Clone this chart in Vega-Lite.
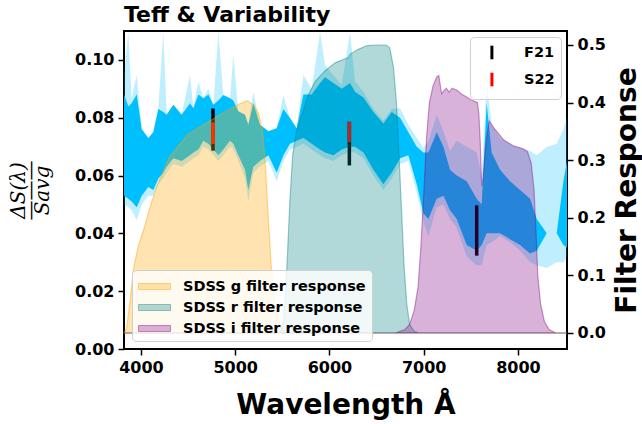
{
  "$schema": "https://vega.github.io/schema/vega-lite/v6.json",
  "width": 443,
  "height": 318,
  "autosize": {"type": "none"},
  "padding": {"left": 124, "top": 31, "right": 75, "bottom": 75},
  "background": "white",
  "config": {
    "font": "DejaVu Sans",
    "view": {"stroke": "black", "strokeWidth": 2},
    "axis": {
      "labelFont": "DejaVu Sans", "labelFontWeight": "bold", "labelFontSize": 16, "labelColor": "black",
      "tickColor": "black", "tickSize": 6, "tickWidth": 1.5, "domain": false, "grid": false,
      "titleFont": "DejaVu Sans", "titleFontWeight": "bold", "titleColor": "black", "labelPadding": 4
    },
    "legend": {
      "labelFont": "DejaVu Sans", "labelFontWeight": "bold", "labelFontSize": 14.5, "labelColor": "black", "labelLimit": 0,
      "fillColor": "rgba(255,255,255,0.8)", "strokeColor": "#d0d0d0", "cornerRadius": 4, "padding": 6
    }
  },
  "title": {"text": "Teff & Variability", "anchor": "start", "frame": "group", "fontSize": 22, "fontWeight": "bold", "font": "DejaVu Sans", "offset": 4, "color": "black"},
  "datasets": {
    "spectrum": [
      {"wl": 3820, "lo": 0.050, "hi": 0.0948, "clo": 0.053, "chi": 0.088},
      {"wl": 3866, "lo": 0.049, "hi": 0.1096, "clo": 0.052, "chi": 0.084},
      {"wl": 3901, "lo": 0.048, "hi": 0.0867, "clo": 0.051, "chi": 0.085},
      {"wl": 3955, "lo": 0.0445, "hi": 0.0948, "clo": 0.049, "chi": 0.088},
      {"wl": 4008, "lo": 0.050, "hi": 0.0764, "clo": 0.053, "chi": 0.076},
      {"wl": 4078, "lo": 0.053, "hi": 0.0730, "clo": 0.056, "chi": 0.073},
      {"wl": 4131, "lo": 0.053, "hi": 0.0753, "clo": 0.055, "chi": 0.075},
      {"wl": 4184, "lo": 0.057, "hi": 0.0833, "clo": 0.059, "chi": 0.083},
      {"wl": 4237, "lo": 0.059, "hi": 0.1096, "clo": 0.061, "chi": 0.082},
      {"wl": 4273, "lo": 0.061, "hi": 0.081, "clo": 0.063, "chi": 0.081},
      {"wl": 4344, "lo": 0.064, "hi": 0.0845, "clo": 0.066, "chi": 0.0845},
      {"wl": 4432, "lo": 0.063, "hi": 0.081, "clo": 0.065, "chi": 0.081},
      {"wl": 4520, "lo": 0.065, "hi": 0.0948, "clo": 0.067, "chi": 0.085},
      {"wl": 4556, "lo": 0.066, "hi": 0.0833, "clo": 0.068, "chi": 0.0833},
      {"wl": 4609, "lo": 0.067, "hi": 0.0925, "clo": 0.069, "chi": 0.088},
      {"wl": 4662, "lo": 0.070, "hi": 0.0867, "clo": 0.072, "chi": 0.0867},
      {"wl": 4715, "lo": 0.069, "hi": 0.090, "clo": 0.071, "chi": 0.088},
      {"wl": 4768, "lo": 0.067, "hi": 0.0845, "clo": 0.069, "chi": 0.0845},
      {"wl": 4821, "lo": 0.065, "hi": 0.1096, "clo": 0.067, "chi": 0.086},
      {"wl": 4874, "lo": 0.067, "hi": 0.0879, "clo": 0.069, "chi": 0.0879},
      {"wl": 4945, "lo": 0.070, "hi": 0.0867, "clo": 0.072, "chi": 0.0867},
      {"wl": 4980, "lo": 0.069, "hi": 0.1016, "clo": 0.071, "chi": 0.086},
      {"wl": 5033, "lo": 0.065, "hi": 0.0822, "clo": 0.067, "chi": 0.0822},
      {"wl": 5104, "lo": 0.059, "hi": 0.081, "clo": 0.062, "chi": 0.081},
      {"wl": 5139, "lo": 0.051, "hi": 0.0776, "clo": 0.055, "chi": 0.0776},
      {"wl": 5192, "lo": 0.061, "hi": 0.089, "clo": 0.063, "chi": 0.085},
      {"wl": 5263, "lo": 0.063, "hi": 0.0776, "clo": 0.065, "chi": 0.0776},
      {"wl": 5352, "lo": 0.065, "hi": 0.0753, "clo": 0.067, "chi": 0.0753},
      {"wl": 5440, "lo": 0.058, "hi": 0.0764, "clo": 0.061, "chi": 0.0764},
      {"wl": 5511, "lo": 0.065, "hi": 0.0879, "clo": 0.067, "chi": 0.083},
      {"wl": 5581, "lo": 0.069, "hi": 0.0799, "clo": 0.071, "chi": 0.0799},
      {"wl": 5652, "lo": 0.070, "hi": 0.0764, "clo": 0.072, "chi": 0.0764},
      {"wl": 5723, "lo": 0.071, "hi": 0.0948, "clo": 0.073, "chi": 0.088},
      {"wl": 5811, "lo": 0.069, "hi": 0.090, "clo": 0.071, "chi": 0.088},
      {"wl": 5900, "lo": 0.067, "hi": 0.1096, "clo": 0.069, "chi": 0.092},
      {"wl": 5953, "lo": 0.066, "hi": 0.0982, "clo": 0.068, "chi": 0.094},
      {"wl": 6041, "lo": 0.065, "hi": 0.0948, "clo": 0.067, "chi": 0.092},
      {"wl": 6130, "lo": 0.067, "hi": 0.0913, "clo": 0.069, "chi": 0.090},
      {"wl": 6218, "lo": 0.068, "hi": 0.1096, "clo": 0.070, "chi": 0.092},
      {"wl": 6271, "lo": 0.068, "hi": 0.0925, "clo": 0.070, "chi": 0.089},
      {"wl": 6360, "lo": 0.066, "hi": 0.089, "clo": 0.068, "chi": 0.087},
      {"wl": 6466, "lo": 0.060, "hi": 0.083, "clo": 0.062, "chi": 0.082},
      {"wl": 6572, "lo": 0.055, "hi": 0.079, "clo": 0.057, "chi": 0.078},
      {"wl": 6660, "lo": 0.059, "hi": 0.083, "clo": 0.061, "chi": 0.082},
      {"wl": 6749, "lo": 0.064, "hi": 0.0833, "clo": 0.066, "chi": 0.080},
      {"wl": 6837, "lo": 0.065, "hi": 0.0776, "clo": 0.067, "chi": 0.075},
      {"wl": 6926, "lo": 0.054, "hi": 0.073, "clo": 0.057, "chi": 0.070},
      {"wl": 6996, "lo": 0.044, "hi": 0.0696, "clo": 0.047, "chi": 0.068},
      {"wl": 7049, "lo": 0.039, "hi": 0.0719, "clo": 0.045, "chi": 0.068},
      {"wl": 7138, "lo": 0.049, "hi": 0.081, "clo": 0.052, "chi": 0.075},
      {"wl": 7209, "lo": 0.050, "hi": 0.0753, "clo": 0.053, "chi": 0.070},
      {"wl": 7279, "lo": 0.045, "hi": 0.0685, "clo": 0.048, "chi": 0.062},
      {"wl": 7350, "lo": 0.042, "hi": 0.072, "clo": 0.045, "chi": 0.060},
      {"wl": 7456, "lo": 0.032, "hi": 0.070, "clo": 0.036, "chi": 0.058},
      {"wl": 7562, "lo": 0.029, "hi": 0.068, "clo": 0.034, "chi": 0.052},
      {"wl": 7615, "lo": 0.029, "hi": 0.060, "clo": 0.036, "chi": 0.050},
      {"wl": 7668, "lo": 0.036, "hi": 0.0925, "clo": 0.040, "chi": 0.085},
      {"wl": 7721, "lo": 0.037, "hi": 0.0776, "clo": 0.040, "chi": 0.068},
      {"wl": 7810, "lo": 0.039, "hi": 0.073, "clo": 0.040, "chi": 0.062},
      {"wl": 7916, "lo": 0.037, "hi": 0.0707, "clo": 0.038, "chi": 0.058},
      {"wl": 8022, "lo": 0.034, "hi": 0.0696, "clo": 0.036, "chi": 0.055},
      {"wl": 8128, "lo": 0.030, "hi": 0.0685, "clo": 0.033, "chi": 0.052},
      {"wl": 8199, "lo": 0.029, "hi": 0.067, "clo": 0.034, "chi": 0.045},
      {"wl": 8305, "lo": 0.028, "hi": 0.070, "clo": 0.040, "chi": 0.040},
      {"wl": 8411, "lo": 0.030, "hi": 0.071, "clo": 0.040, "chi": 0.040},
      {"wl": 8482, "lo": 0.030, "hi": 0.076, "clo": 0.036, "chi": 0.058},
      {"wl": 8520, "lo": 0.032, "hi": 0.080, "clo": 0.035, "chi": 0.065}
    ],
    "errors": [
      {"src": "F21", "wl": 4764, "lo": 0.0686, "hi": 0.0832},
      {"src": "S22", "wl": 4764, "lo": 0.0709, "hi": 0.0784},
      {"src": "F21", "wl": 6211, "lo": 0.0635, "hi": 0.0786},
      {"src": "S22", "wl": 6211, "lo": 0.0715, "hi": 0.0786},
      {"src": "F21", "wl": 7562, "lo": 0.0323, "hi": 0.0497}
    ],
    "filters": [
      {"f": "SDSS g filter response", "wl": 3820, "r": 0},
      {"f": "SDSS g filter response", "wl": 3850, "r": 0.01},
      {"f": "SDSS g filter response", "wl": 3880, "r": 0.05},
      {"f": "SDSS g filter response", "wl": 3920, "r": 0.11},
      {"f": "SDSS g filter response", "wl": 3970, "r": 0.15},
      {"f": "SDSS g filter response", "wl": 4030, "r": 0.18},
      {"f": "SDSS g filter response", "wl": 4100, "r": 0.22},
      {"f": "SDSS g filter response", "wl": 4170, "r": 0.255},
      {"f": "SDSS g filter response", "wl": 4300, "r": 0.305},
      {"f": "SDSS g filter response", "wl": 4500, "r": 0.345},
      {"f": "SDSS g filter response", "wl": 4700, "r": 0.365},
      {"f": "SDSS g filter response", "wl": 4900, "r": 0.385},
      {"f": "SDSS g filter response", "wl": 5050, "r": 0.398},
      {"f": "SDSS g filter response", "wl": 5130, "r": 0.403},
      {"f": "SDSS g filter response", "wl": 5200, "r": 0.395},
      {"f": "SDSS g filter response", "wl": 5250, "r": 0.38},
      {"f": "SDSS g filter response", "wl": 5290, "r": 0.35},
      {"f": "SDSS g filter response", "wl": 5320, "r": 0.29},
      {"f": "SDSS g filter response", "wl": 5350, "r": 0.2},
      {"f": "SDSS g filter response", "wl": 5380, "r": 0.12},
      {"f": "SDSS g filter response", "wl": 5420, "r": 0.05},
      {"f": "SDSS g filter response", "wl": 5470, "r": 0.015},
      {"f": "SDSS g filter response", "wl": 5530, "r": 0},
      {"f": "SDSS g filter response", "wl": 8520, "r": 0},
      {"f": "SDSS r filter response", "wl": 3820, "r": 0},
      {"f": "SDSS r filter response", "wl": 5480, "r": 0},
      {"f": "SDSS r filter response", "wl": 5510, "r": 0.02},
      {"f": "SDSS r filter response", "wl": 5530, "r": 0.06},
      {"f": "SDSS r filter response", "wl": 5550, "r": 0.12},
      {"f": "SDSS r filter response", "wl": 5580, "r": 0.23},
      {"f": "SDSS r filter response", "wl": 5610, "r": 0.31},
      {"f": "SDSS r filter response", "wl": 5650, "r": 0.35},
      {"f": "SDSS r filter response", "wl": 5710, "r": 0.38},
      {"f": "SDSS r filter response", "wl": 5780, "r": 0.415},
      {"f": "SDSS r filter response", "wl": 5850, "r": 0.437},
      {"f": "SDSS r filter response", "wl": 5950, "r": 0.455},
      {"f": "SDSS r filter response", "wl": 6060, "r": 0.469},
      {"f": "SDSS r filter response", "wl": 6150, "r": 0.475},
      {"f": "SDSS r filter response", "wl": 6200, "r": 0.478},
      {"f": "SDSS r filter response", "wl": 6220, "r": 0.484},
      {"f": "SDSS r filter response", "wl": 6300, "r": 0.492},
      {"f": "SDSS r filter response", "wl": 6400, "r": 0.499},
      {"f": "SDSS r filter response", "wl": 6500, "r": 0.5},
      {"f": "SDSS r filter response", "wl": 6600, "r": 0.5},
      {"f": "SDSS r filter response", "wl": 6640, "r": 0.495},
      {"f": "SDSS r filter response", "wl": 6680, "r": 0.46},
      {"f": "SDSS r filter response", "wl": 6710, "r": 0.4},
      {"f": "SDSS r filter response", "wl": 6740, "r": 0.3},
      {"f": "SDSS r filter response", "wl": 6760, "r": 0.23},
      {"f": "SDSS r filter response", "wl": 6790, "r": 0.12},
      {"f": "SDSS r filter response", "wl": 6820, "r": 0.05},
      {"f": "SDSS r filter response", "wl": 6850, "r": 0.015},
      {"f": "SDSS r filter response", "wl": 6900, "r": 0.003},
      {"f": "SDSS r filter response", "wl": 6950, "r": 0},
      {"f": "SDSS r filter response", "wl": 8520, "r": 0},
      {"f": "SDSS i filter response", "wl": 3820, "r": 0},
      {"f": "SDSS i filter response", "wl": 6700, "r": 0},
      {"f": "SDSS i filter response", "wl": 6750, "r": 0.003},
      {"f": "SDSS i filter response", "wl": 6800, "r": 0.006},
      {"f": "SDSS i filter response", "wl": 6850, "r": 0.015},
      {"f": "SDSS i filter response", "wl": 6900, "r": 0.04},
      {"f": "SDSS i filter response", "wl": 6940, "r": 0.08},
      {"f": "SDSS i filter response", "wl": 6970, "r": 0.15},
      {"f": "SDSS i filter response", "wl": 7000, "r": 0.24},
      {"f": "SDSS i filter response", "wl": 7030, "r": 0.34},
      {"f": "SDSS i filter response", "wl": 7060, "r": 0.4},
      {"f": "SDSS i filter response", "wl": 7100, "r": 0.43},
      {"f": "SDSS i filter response", "wl": 7140, "r": 0.445},
      {"f": "SDSS i filter response", "wl": 7160, "r": 0.447},
      {"f": "SDSS i filter response", "wl": 7190, "r": 0.415},
      {"f": "SDSS i filter response", "wl": 7210, "r": 0.42},
      {"f": "SDSS i filter response", "wl": 7240, "r": 0.425},
      {"f": "SDSS i filter response", "wl": 7270, "r": 0.418},
      {"f": "SDSS i filter response", "wl": 7300, "r": 0.425},
      {"f": "SDSS i filter response", "wl": 7350, "r": 0.422},
      {"f": "SDSS i filter response", "wl": 7400, "r": 0.415},
      {"f": "SDSS i filter response", "wl": 7450, "r": 0.41},
      {"f": "SDSS i filter response", "wl": 7500, "r": 0.405},
      {"f": "SDSS i filter response", "wl": 7570, "r": 0.4},
      {"f": "SDSS i filter response", "wl": 7585, "r": 0.38},
      {"f": "SDSS i filter response", "wl": 7600, "r": 0.33},
      {"f": "SDSS i filter response", "wl": 7615, "r": 0.255},
      {"f": "SDSS i filter response", "wl": 7630, "r": 0.27},
      {"f": "SDSS i filter response", "wl": 7660, "r": 0.33},
      {"f": "SDSS i filter response", "wl": 7695, "r": 0.368},
      {"f": "SDSS i filter response", "wl": 7750, "r": 0.355},
      {"f": "SDSS i filter response", "wl": 7850, "r": 0.335},
      {"f": "SDSS i filter response", "wl": 7950, "r": 0.325},
      {"f": "SDSS i filter response", "wl": 8050, "r": 0.32},
      {"f": "SDSS i filter response", "wl": 8100, "r": 0.315},
      {"f": "SDSS i filter response", "wl": 8140, "r": 0.295},
      {"f": "SDSS i filter response", "wl": 8170, "r": 0.25},
      {"f": "SDSS i filter response", "wl": 8190, "r": 0.18},
      {"f": "SDSS i filter response", "wl": 8210, "r": 0.1},
      {"f": "SDSS i filter response", "wl": 8240, "r": 0.05},
      {"f": "SDSS i filter response", "wl": 8280, "r": 0.02},
      {"f": "SDSS i filter response", "wl": 8330, "r": 0.006},
      {"f": "SDSS i filter response", "wl": 8400, "r": 0},
      {"f": "SDSS i filter response", "wl": 8520, "r": 0}
    ]
  },
  "encoding": {
    "x": {
      "field": "wl", "type": "quantitative",
      "scale": {"domain": [3820, 8520], "nice": false, "zero": false},
      "axis": {"values": [4000, 5000, 6000, 7000, 8000], "format": "d", "title": "Wavelength Å", "titleFontSize": 28, "titlePadding": 16}
    }
  },
  "layer": [
    {
      "layer": [
        {
          "data": {"name": "spectrum"},
          "mark": {"type": "area", "color": "#00BFFF", "opacity": 0.25, "clip": true},
          "encoding": {
            "y": {"field": "hi", "type": "quantitative", "scale": {"domain": [0, 0.11], "nice": false},
                  "axis": {"orient": "left", "values": [0, 0.02, 0.04, 0.06, 0.08, 0.1], "format": ".2f", "title": ["ΔS(λ)", "———", "Savg"], "titleFont": "DejaVu Serif", "titleFontWeight": "normal", "titleFontStyle": "italic", "titleFontSize": 20, "titleLineHeight": 12, "titlePadding": 22}},
            "y2": {"field": "lo"}
          }
        },
        {
          "data": {"name": "spectrum"},
          "mark": {"type": "area", "color": "#00BFFF", "opacity": 1, "clip": true},
          "encoding": {
            "y": {"field": "chi", "type": "quantitative", "scale": {"domain": [0, 0.11], "nice": false},
                  "axis": {"orient": "left", "values": [0, 0.02, 0.04, 0.06, 0.08, 0.1], "format": ".2f", "title": ["ΔS(λ)", "———", "Savg"], "titleFont": "DejaVu Serif", "titleFontWeight": "normal", "titleFontStyle": "italic", "titleFontSize": 20, "titleLineHeight": 12, "titlePadding": 22}},
            "y2": {"field": "clo"}
          }
        },
        {
          "data": {"name": "errors"},
          "mark": {"type": "rule", "strokeWidth": 3.5},
          "encoding": {
            "y": {"field": "hi", "type": "quantitative", "scale": {"domain": [0, 0.11], "nice": false},
                  "axis": {"orient": "left", "values": [0, 0.02, 0.04, 0.06, 0.08, 0.1], "format": ".2f", "title": ["ΔS(λ)", "———", "Savg"], "titleFont": "DejaVu Serif", "titleFontWeight": "normal", "titleFontStyle": "italic", "titleFontSize": 20, "titleLineHeight": 12, "titlePadding": 22}},
            "y2": {"field": "lo"},
            "color": {"field": "src", "type": "nominal", "scale": {"domain": ["F21", "S22"], "range": ["black", "red"]},
                      "legend": {"orient": "top-right", "offset": 6, "title": null, "symbolType": "M0.8,-0.85V0.85", "symbolSize": 256, "symbolStrokeWidth": 3, "labelOffset": 29, "rowPadding": 0}}
          }
        }
      ]
    },
    {
      "data": {"name": "filters"},
      "mark": {"type": "area", "strokeWidth": 1.2},
      "encoding": {
        "y": {"field": "r", "type": "quantitative", "scale": {"domain": [-0.0278, 0.5243], "nice": false, "zero": false},
              "axis": {"orient": "right", "values": [0, 0.1, 0.2, 0.3, 0.4, 0.5], "format": ".1f", "title": "Filter Response", "titleFontSize": 28, "titleAngle": 270, "titleBaseline": "top", "titlePadding": 8}},
        "y2": {"datum": 0},
        "fill": {"field": "f", "type": "nominal",
                 "scale": {"domain": ["SDSS g filter response", "SDSS r filter response", "SDSS i filter response"], "range": ["rgba(255,165,0,0.3)", "rgba(0,128,128,0.3)", "rgba(128,0,128,0.3)"]},
                 "legend": {"orient": "bottom-left", "offset": 8, "title": null, "symbolType": "M-1,-0.3H2.2V0.3H-1Z", "symbolSize": 400, "symbolStrokeWidth": 1, "labelOffset": 24, "rowPadding": 4, "padding": 6}},
        "stroke": {"field": "f", "type": "nominal",
                   "scale": {"domain": ["SDSS g filter response", "SDSS r filter response", "SDSS i filter response"], "range": ["rgba(255,165,0,0.45)", "rgba(0,128,128,0.4)", "rgba(128,0,128,0.4)"]},
                   "legend": {"orient": "bottom-left", "offset": 8, "title": null, "symbolType": "M-1,-0.3H2.2V0.3H-1Z", "symbolSize": 400, "symbolStrokeWidth": 1, "labelOffset": 24, "rowPadding": 4, "padding": 6}}
      }
    }
  ],
  "resolve": {"scale": {"y": "independent"}}
}
